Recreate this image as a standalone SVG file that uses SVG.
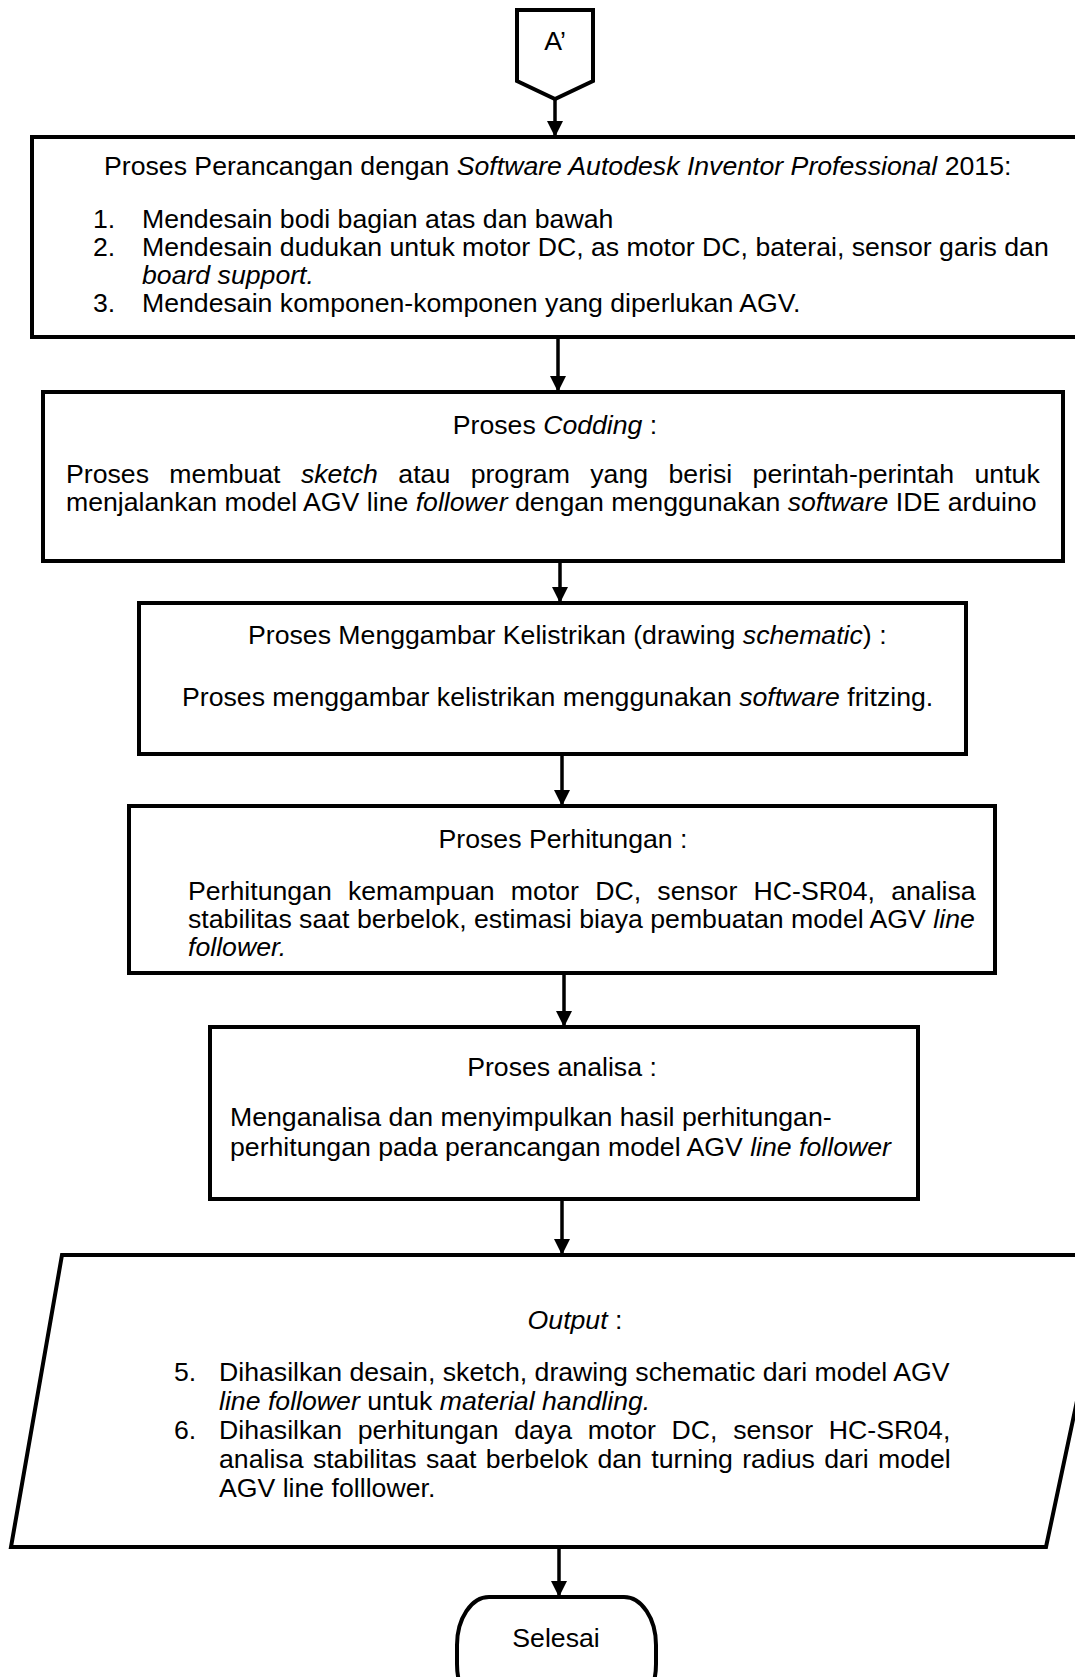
<svg xmlns="http://www.w3.org/2000/svg" width="1075" height="1677" viewBox="0 0 1075 1677">
<defs>
<marker id="ah" markerUnits="userSpaceOnUse" markerWidth="16" markerHeight="16" viewBox="0 0 16 16" refX="16" refY="8" orient="auto">
<path d="M0,0 L16,8 L0,16 Z" fill="#000"/>
</marker>
<style>
.shape{fill:#fff;stroke:#000;stroke-width:4;stroke-linejoin:miter}
.conn{stroke:#000;stroke-width:3.5;fill:none;marker-end:url(#ah)}
text{font-family:"Liberation Sans",Arial,sans-serif;font-size:26.67px;fill:#000}
.c{text-anchor:middle}
.i{font-style:italic}
</style>
</defs>
<rect width="1075" height="1677" fill="#fff"/>

<g id="connectors">
<line class="conn" x1="555" y1="99" x2="555" y2="137"/>
<line class="conn" x1="558" y1="337" x2="558" y2="392"/>
<line class="conn" x1="560" y1="561" x2="560" y2="603"/>
<line class="conn" x1="562" y1="754" x2="562" y2="806"/>
<line class="conn" x1="564" y1="973" x2="564" y2="1027"/>
<line class="conn" x1="562" y1="1199" x2="562" y2="1255"/>
<line class="conn" x1="559" y1="1547" x2="559" y2="1597"/>
</g>

<g id="start">
<polygon class="shape" points="517,10 593,10 593,81 555,99 517,81"/>
<text x="555" y="50" class="c">A’</text>
</g>

<g id="design">
<rect class="shape" x="32" y="137" width="1060" height="200"/>
<text x="104" y="175">Proses Perancangan dengan <tspan class="i">Software Autodesk Inventor Professional</tspan> 2015:</text>
<text x="93" y="228">1.</text><text x="142" y="228">Mendesain bodi bagian atas dan bawah</text>
<text x="93" y="256">2.</text><text x="142" y="256">Mendesain dudukan untuk motor DC, as motor DC, baterai, sensor garis dan</text>
<text x="142" y="284" class="i">board support.</text>
<text x="93" y="312">3.</text><text x="142" y="312">Mendesain komponen-komponen yang diperlukan AGV.</text>
</g>

<g id="coding">
<rect class="shape" x="43" y="392" width="1020" height="169"/>
<text x="555" y="434" class="c">Proses <tspan class="i">Codding</tspan> :</text>
<text x="66" y="483" word-spacing="13">Proses membuat <tspan class="i">sketch</tspan> atau program yang berisi perintah-perintah untuk</text>
<text x="66" y="511">menjalankan model AGV line <tspan class="i">follower</tspan> dengan menggunakan <tspan class="i">software</tspan> IDE arduino</text>
</g>

<g id="schematic">
<rect class="shape" x="139" y="603" width="827" height="151"/>
<text x="248" y="644">Proses Menggambar Kelistrikan (drawing <tspan class="i">schematic</tspan>)  :</text>
<text x="182" y="706">Proses menggambar kelistrikan menggunakan <tspan class="i">software</tspan> fritzing.</text>
</g>

<g id="calc">
<rect class="shape" x="129" y="806" width="866" height="167"/>
<text x="563" y="848" class="c">Proses Perhitungan :</text>
<text x="188" y="900" word-spacing="8.8">Perhitungan kemampuan motor DC, sensor HC-SR04, analisa</text>
<text x="188" y="928">stabilitas saat berbelok, estimasi biaya pembuatan model AGV <tspan class="i">line</tspan></text>
<text x="188" y="956" class="i">follower.</text>
</g>

<g id="analysis">
<rect class="shape" x="210" y="1027" width="708" height="172"/>
<text x="562" y="1076" class="c">Proses analisa :</text>
<text x="230" y="1126">Menganalisa dan menyimpulkan hasil perhitungan-</text>
<text x="230" y="1156">perhitungan pada perancangan model AGV <tspan class="i">line follower</tspan></text>
</g>

<g id="output">
<polygon class="shape" points="62,1255 1108,1255 1046,1547 11,1547"/>
<text x="575" y="1329" class="c"><tspan class="i">Output</tspan> :</text>
<text x="174" y="1381">5.</text><text x="219" y="1381">Dihasilkan desain, sketch, drawing schematic dari model AGV</text>
<text x="219" y="1410"><tspan class="i">line follower</tspan> untuk <tspan class="i">material handling.</tspan></text>
<text x="174" y="1439">6.</text><text x="219" y="1439" word-spacing="8.3">Dihasilkan perhitungan daya motor DC, sensor HC-SR04,</text>
<text x="219" y="1468" word-spacing="2">analisa stabilitas saat berbelok dan turning radius dari model</text>
<text x="219" y="1497">AGV line folllower.</text>
</g>

<g id="end">
<rect class="shape" x="457" y="1597" width="199" height="115" rx="32" ry="48"/>
<text x="556" y="1647" class="c">Selesai</text>
</g>
</svg>
